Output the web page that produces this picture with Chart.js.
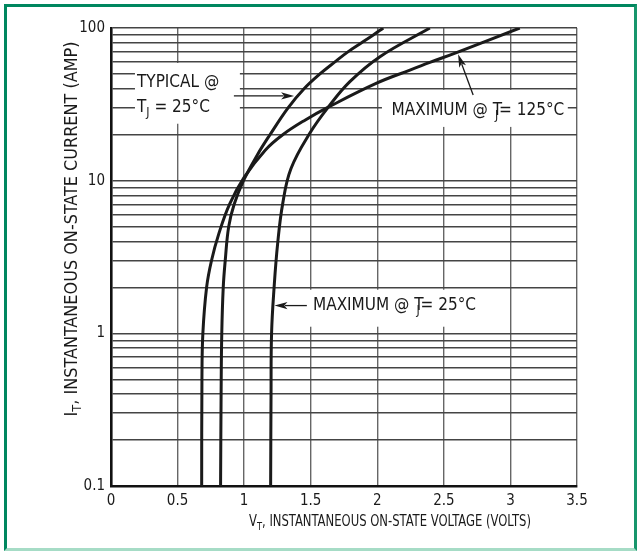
<!DOCTYPE html>
<html><head><meta charset="utf-8">
<script src="https://cdn.jsdelivr.net/npm/chart.js@4/dist/chart.umd.min.js"></script>
<style>
html,body{margin:0;padding:0;background:#fff;}
#wrap{position:relative;width:640px;height:559px;overflow:hidden;}
#frame{position:absolute;left:4px;top:4px;width:633px;height:547px;box-sizing:border-box;border-top:3px solid #00875f;border-left:3px solid #00875f;border-right:3px solid #17966c;border-bottom:3px solid #a6dcc6;pointer-events:none;}
canvas{position:absolute;left:0;top:0;}
</style></head><body>
<div id="wrap"><canvas id="c" width="640" height="559"></canvas><div id="frame"></div></div>
<script>
// ---- data ----
const typV   = [0.823,0.827,0.832,0.843,0.858,0.884,0.925,0.995,1.100,1.194,1.330,1.450,1.569,1.682,1.782,1.882,1.970,2.045];
const typI   = [0.1,  0.4,  1.0,  2.0,  3.0,  5.0,  7.0,  10,   14.8, 20,   30,   40,   50,   60,   70,   80,   90,   100];
const max125V = [0.681,0.683,0.690,0.718,0.755,0.810,0.890,1.000,1.160,1.290,1.460,1.632,1.995,2.245,2.395,2.595,3.070];
const max125I = [0.1,  0.5,  1.0,  2.0,  3.0,  4.5,  7.0,  10.5, 15.9, 20,   25,   30.3, 43.5, 53,   59.5, 69,   100];
const max25V = [1.199,1.202,1.206,1.225,1.252,1.290,1.352,1.494,1.632,1.794,2.020,2.395];
const max25I = [0.1,  0.4,  1.0,  2.0,  3.9,  7.1,  12,   20.5, 30.3, 44.5, 64.9, 100];

const xTickLabels = ['0','0.5','1','1.5','2','2.5','3','3.5'];
const yDecades = [0.1, 1, 10];
const yTickLabels = {0.1:'0.1', 1:'1', 10:'10', 100:'100'};

const FONT = '"Liberation Sans Narrow","DejaVu Sans Condensed","Liberation Sans",sans-serif';

const pts = (vs, is) => vs.map((v,i)=>({x:v, y:is[i]}));
const curveStyle = {borderColor:'#1a1a1a', borderWidth:3, pointRadius:0, fill:false, tension:0.4, cubicInterpolationMode:'default'};

// ---- rich text helper (subscripts) ----
function partsWidth(ctx, parts, size){
  let w = 0;
  for (const p of parts){
    const s = p.sub ? size*0.72 : size;
    ctx.font = s + 'px ' + FONT;
    w += ctx.measureText(p.t).width + (p.dx||0)*size;
  }
  return w;
}
function drawParts(ctx, parts, x, y, size, align, fitW){
  let w = partsWidth(ctx, parts, size);
  const k = fitW ? fitW / w : 1;
  ctx.save();
  ctx.translate(align === 'center' ? x - w*k/2 : x, y);
  ctx.scale(k, 1);
  let cx = 0;
  ctx.textBaseline = 'middle';
  ctx.textAlign = 'left';
  ctx.fillStyle = '#1a1a1a';
  for (const p of parts){
    const s = p.sub ? size*0.72 : size;
    ctx.font = s + 'px ' + FONT;
    cx += (p.dx||0)*size;
    ctx.fillText(p.t, cx, p.sub ? size*0.3 : 0);
    cx += ctx.measureText(p.t).width;
  }
  ctx.restore();
}
function arrow(ctx, x1, y1, x2, y2){
  const a = Math.atan2(y2-y1, x2-x1), L = 13, H = 3.6;
  ctx.strokeStyle = '#1a1a1a'; ctx.fillStyle = '#1a1a1a'; ctx.lineWidth = 1.3;
  ctx.beginPath(); ctx.moveTo(x1,y1); ctx.lineTo(x2 - Math.cos(a)*L*0.8, y2 - Math.sin(a)*L*0.8); ctx.stroke();
  ctx.beginPath();
  ctx.moveTo(x2, y2);
  ctx.lineTo(x2 - Math.cos(a)*L + Math.sin(a)*H, y2 - Math.sin(a)*L - Math.cos(a)*H);
  ctx.lineTo(x2 - Math.cos(a)*L*0.75, y2 - Math.sin(a)*L*0.75);
  ctx.lineTo(x2 - Math.cos(a)*L - Math.sin(a)*H, y2 - Math.sin(a)*L + Math.cos(a)*H);
  ctx.closePath(); ctx.fill();
}

// annotation placement in data units (V, A)
const notes = {
  typBox:  {x0:0.18, x1:0.968, y0:59,   y1:23.6},
  typL1:   {x:0.195, y:43.7},
  typL2:   {x:0.195, y:29.9},
  typArr:  {x0:0.923, y0:35.9, x1:1.375, y1:35.9},
  m125Box: {x0:2.035, x1:3.431, y0:39.3, y1:22.5},
  m125Txt: {x:2.107, y:28.8},
  m125Arr: {x0:2.72, y0:36.4, x1:2.607, y1:67.3},
  m25Box:  {x0:1.471, x1:2.785, y0:1.93, y1:1.105},
  m25Txt:  {x:1.517, y:1.52},
  m25Arr:  {x0:1.471, y0:1.52, x1:1.228, y1:1.52}
};

const annot = {
  id:'annot',
  beforeDatasetsDraw(chart){
    const ctx = chart.ctx, xs = chart.scales.x, ys = chart.scales.y;
    const px = v => xs.getPixelForValue(v), py = v => ys.getPixelForValue(v);
    ctx.save();
    ctx.fillStyle = '#fff';
    for (const b of [notes.typBox, notes.m125Box, notes.m25Box]){
      ctx.fillRect(px(b.x0), py(b.y0), px(b.x1)-px(b.x0), py(b.y1)-py(b.y0));
    }
    ctx.restore();
  },
  afterDatasetsDraw(chart){
    const ctx = chart.ctx, xs = chart.scales.x, ys = chart.scales.y;
    const px = v => xs.getPixelForValue(v), py = v => ys.getPixelForValue(v);
    ctx.save();
    const S = 17;
    drawParts(ctx, [{t:'TYPICAL @'}], px(notes.typL1.x), py(notes.typL1.y), S, 'left');
    drawParts(ctx, [{t:'T'},{t:'J',sub:true},{t:' = 25°C'}], px(notes.typL2.x), py(notes.typL2.y), S, 'left');
    drawParts(ctx, [{t:'MAXIMUM @ T'},{t:'J',sub:true,dx:-0.42},{t:'= 125°C',dx:0.05}], px(notes.m125Txt.x), py(notes.m125Txt.y), S, 'left');
    drawParts(ctx, [{t:'MAXIMUM @ T'},{t:'J',sub:true,dx:-0.42},{t:'= 25°C',dx:0.05}], px(notes.m25Txt.x), py(notes.m25Txt.y), S, 'left');
    for (const a of [notes.typArr, notes.m125Arr, notes.m25Arr]){
      arrow(ctx, px(a.x0), py(a.y0), px(a.x1), py(a.y1));
    }
    // axis titles
    drawParts(ctx, [{t:'V'},{t:'T',sub:true},{t:', INSTANTANEOUS ON-STATE VOLTAGE (VOLTS)'}], 390, 522, 15.5, 'center', 282);
    ctx.translate(72, 229); ctx.rotate(-Math.PI/2);
    drawParts(ctx, [{t:'I'},{t:'T',sub:true},{t:', INSTANTANEOUS ON-STATE CURRENT (AMP)'}], 0, 0, 17.5, 'center', 375);
    ctx.restore();
  }
};

new Chart(document.getElementById('c'), {
  type:'line',
  data:{datasets:[
    Object.assign({label:'Typical @ TJ = 25°C', data:pts(typV, typI)}, curveStyle),
    Object.assign({label:'Maximum @ TJ = 125°C', data:pts(max125V, max125I)}, curveStyle),
    Object.assign({label:'Maximum @ TJ = 25°C', data:pts(max25V, max25I)}, curveStyle)
  ]},
  options:{
    responsive:false, animation:false, devicePixelRatio:1,
    layout:{padding:{left:0, top:28, right:63, bottom:0}},
    plugins:{legend:{display:false}, tooltip:{enabled:false}},
    scales:{
      x:{type:'linear', min:0, max:3.5,
        afterFit(s){ s.height = 73; },
        ticks:{stepSize:0.5, padding:6, color:'#1a1a1a', font:{family:FONT, size:15},
          callback:(v)=>{ const i = Math.round(v/0.5); return xTickLabels[i] ?? ''; }},
        grid:{color:'#666', lineWidth:1.4, drawTicks:false},
        border:{display:true, color:'#111', width:2.6}
      },
      y:{type:'logarithmic', min:0.1, max:100,
        afterFit(s){ s.width = 111; },
        afterBuildTicks(s){
          const t = [];
          for (const d of yDecades) for (let k=1;k<=9;k++) t.push({value:+(d*k).toPrecision(3)});
          t.push({value:100});
          s.ticks = t;
        },
        ticks:{autoSkip:false, padding:6, color:'#1a1a1a', font:{family:FONT, size:15},
          callback:(v)=> yTickLabels[v] ?? ''},
        grid:{color:'#444', lineWidth:1.4, drawTicks:false},
        border:{display:true, color:'#111', width:2.6}
      }
    }
  },
  plugins:[annot]
});
</script>
</body></html>
